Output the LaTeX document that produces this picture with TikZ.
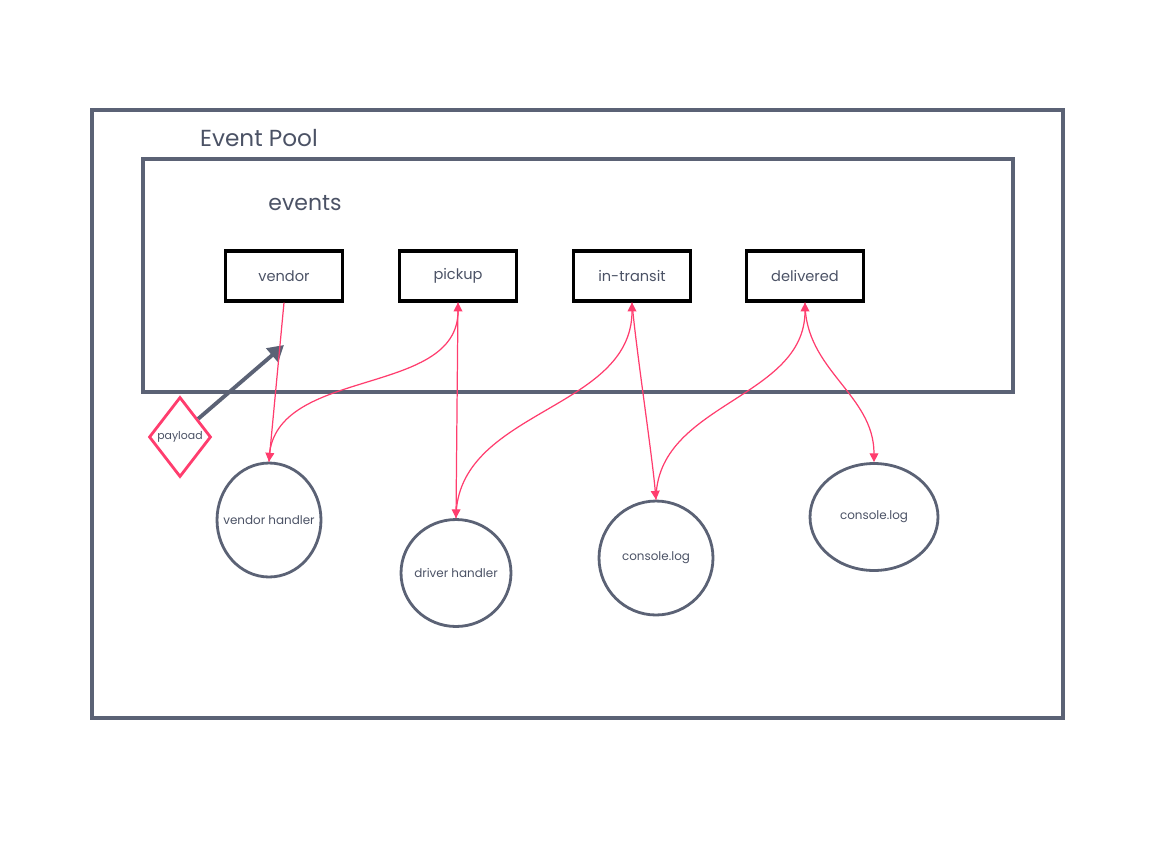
\documentclass[tikz,border=0pt]{standalone}
\usepackage{fontspec}
\setmainfont{Poppins}
\usepackage{xcolor}
\usetikzlibrary{shapes.geometric,arrows.meta}
\definecolor{frame}{HTML}{5B6275}
\definecolor{txt}{HTML}{4B5265}
\definecolor{hot}{HTML}{FF3D6E}

\begin{document}
\begin{tikzpicture}[x=0.02cm,y=-0.02cm]
    \tikzstyle{evbox}=[draw=black,line width=1.8pt,minimum width=2.34cm,minimum height=1cm,inner sep=0pt,text=txt,font=\fontsize{8.3}{9}\selectfont]
    \tikzstyle{handler}=[draw=frame,ellipse,line width=1.6pt,inner ysep=0pt,inner xsep=-9pt,text=txt,font=\fontsize{6.8}{8}\selectfont]
    \tikzstyle{flow}=[draw=hot,line width=0.7pt,-{Triangle[length=5pt,width=5pt]}]

    \useasboundingbox (0,0) rectangle (1156,842);

    % pool and events frames
    \draw[frame,line width=2pt] (92,110) rectangle (1063,718);
    \draw[frame,line width=2pt] (143,159) rectangle (1013,392);
    \node[text=txt,font=\fontsize{13.2}{15}\selectfont] (pool) at (259,138) {Event Pool};
    \node[text=txt,font=\fontsize{12.5}{14}\selectfont] (evs) at (305,203) {events};

    % event boxes
    \node[evbox] (vendor) at (284,276) {vendor};
    \node[evbox] (pickup) at (458,276) {pickup};
    \node[evbox] (transit) at (632,276) {in-transit};
    \node[evbox] (delivered) at (805,276) {delivered};

    % payload
    \node[diamond,draw=hot,line width=1.6pt,minimum width=1.24cm,minimum height=1.6cm,inner sep=0pt,text=txt,font=\fontsize{6.2}{7}\selectfont] (payload) at (180,437) {payload};
    \coordinate (ptip) at (284,345);
    \draw[frame,line width=2.2pt,-{Triangle[length=9pt,width=10pt]}] (payload.45) -- (ptip);

    % handlers
    \node[handler,minimum width=2.08cm,minimum height=2.28cm] (vh) at (269,520) {vendor handler};
    \node[handler,minimum width=2.2cm,minimum height=2.14cm] (dh) at (456,573) {driver handler};
    \node[handler,minimum width=2.28cm,minimum height=2.28cm] (cl1) at (656,558) {console.log};
    \node[handler,minimum width=2.56cm,minimum height=2.14cm] (cl2) at (874,517) {console.log};

    % flows
    \draw[flow] (vendor.south) -- (vh.north);
    \draw[flow] (vh.north) to[out=90,in=-90] (pickup.south);
    \draw[flow] (pickup.south) -- (dh.north);
    \draw[flow] (dh.north) to[out=90,in=-90] (transit.south);
    \draw[flow] (transit.south) to[out=-85,in=95,looseness=0.6] (cl1.north);
    \draw[flow] (cl1.north) to[out=90,in=-90] (delivered.south);
    \draw[flow] (delivered.south) to[out=-90,in=90] (cl2.north);

\end{tikzpicture}
\end{document}
